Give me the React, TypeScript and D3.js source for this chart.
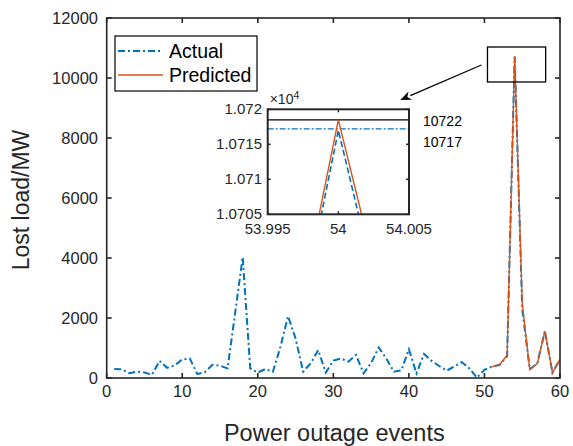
import React from "react";
import * as d3 from "d3";

// events 1..60
const events = d3.range(1, 61);
const actualLoad = [
  300, 290, 160, 215, 180, 110, 570, 340, 420, 620,
  650, 130, 200, 440, 410, 320, 2160, 4030, 320, 180,
  300, 210, 1040, 2060, 1320, 210, 490, 930, 180, 580,
  650, 545, 770, 155, 500, 1020, 655, 210, 255, 955,
  155, 800, 570, 400, 245, 380, 530, 320, 10, 270,
  380, 430, 730, 10717, 2300, 290, 490, 1570, 180, 620,
];
const predEvents = d3.range(51, 61);
const predictedLoad = [380, 440, 760, 10718.5, 2500, 280, 480, 1560, 170, 630];

const xTicks = [0, 10, 20, 30, 40, 50, 60];
const yTicks = [0, 2000, 4000, 6000, 8000, 10000, 12000];
const insetXTicks = [53.995, 54, 54.005];
const insetYTicks = [10705, 10710, 10715, 10720];
const insetYLabels = ["1.0705", "1.071", "1.0715", "1.072"];
const refLines = [10718.5, 10717.2]; // drawn levels in inset
const refLabels = ["10722", "10717"];

const BLUE = "#0072BD";
const ORANGE = "#D95319";
const AX = "#262626";
const FONT = "'Liberation Sans', Arial, Helvetica, sans-serif";

export default function App() {
  const W = 573, H = 446;
  const x = d3.scaleLinear().domain([0, 60]).range([106.7, 560]);
  const y = d3.scaleLinear().domain([0, 12000]).range([378, 18]);

  const ix = d3.scaleLinear().domain([53.995, 54.005]).range([267.7, 409]);
  const iy = d3.scaleLinear().domain([10705, 10720]).range([214.3, 109.3]);

  const actual = events.map((e, i) => [e, actualLoad[i]] as [number, number]);
  const pred = predEvents.map((e, i) => [e, predictedLoad[i]] as [number, number]);

  const line = d3.line<[number, number]>().x(d => x(d[0])).y(d => y(d[1]));
  const iline = d3.line<[number, number]>().x(d => ix(d[0])).y(d => iy(d[1]));

  // zoom box and arrow (data units)
  const box = { x0: 50.4, x1: 58.1, y0: 9867, y1: 11033 };
  const arrow = { x0: 49.6, y0: 10433, x1: 38.85, y1: 9267 };
  const ax0 = x(arrow.x0), ay0 = y(arrow.y0), ax1 = x(arrow.x1), ay1 = y(arrow.y1);
  const ang = Math.atan2(ay1 - ay0, ax1 - ax0);
  const hl = 11, hw = 4.5;
  const bx = ax1 - hl * Math.cos(ang), by = ay1 - hl * Math.sin(ang);
  const head = [
    [ax1, ay1],
    [bx + hw * Math.sin(ang), by - hw * Math.cos(ang)],
    [ax1 - 0.7 * hl * Math.cos(ang), ay1 - 0.7 * hl * Math.sin(ang)],
    [bx - hw * Math.sin(ang), by + hw * Math.cos(ang)],
  ];

  const [l, r] = x.range();
  const [b, t] = y.range();
  const [il, ir] = ix.range();
  const [ib, it] = iy.range();

  return (
    <svg width={W} height={H} style={{ position: "absolute", left: 0, top: 0, background: "#fff" }} fontFamily={FONT}>
      <defs>
        <clipPath id="mainClip"><rect x={l} y={t} width={r - l} height={b - t} /></clipPath>
        <clipPath id="insetClip"><rect x={il} y={it} width={ir - il} height={ib - it} /></clipPath>
      </defs>
      <rect width={W} height={H} fill="#fff" />

      {/* main lines */}
      <g clipPath="url(#mainClip)">
        <path d={line(actual) || ""} fill="none" stroke={BLUE} strokeWidth={2} strokeDasharray="7,3,2,3" />
        <path d={line(pred) || ""} fill="none" stroke={ORANGE} strokeWidth={1.4} />
      </g>

      {/* main axes box */}
      <rect x={l} y={t} width={r - l} height={b - t} fill="none" stroke={AX} strokeWidth={1.6} />
      {xTicks.map(v => (
        <g key={"x" + v}>
          <line x1={x(v)} x2={x(v)} y1={b} y2={b - 5} stroke={AX} strokeWidth={1.6} />
          <line x1={x(v)} x2={x(v)} y1={t} y2={t + 5} stroke={AX} strokeWidth={1.6} />
          <text x={x(v)} y={397} textAnchor="middle" fontSize={16.5} fill={AX}>{v}</text>
        </g>
      ))}
      {yTicks.map(v => (
        <g key={"y" + v}>
          <line x1={l} x2={l + 5} y1={y(v)} y2={y(v)} stroke={AX} strokeWidth={1.6} />
          <line x1={r} x2={r - 5} y1={y(v)} y2={y(v)} stroke={AX} strokeWidth={1.6} />
          <text x={98} y={y(v) + 6} textAnchor="end" fontSize={16.5} fill={AX}>{v}</text>
        </g>
      ))}
      <text x={(l + r) / 2 + 1} y={441} textAnchor="middle" fontSize={23.5} fill={AX}>Power outage events</text>
      <text transform={`translate(29,${(t + b) / 2 + 2}) rotate(-90)`} textAnchor="middle" fontSize={23} fill={AX}>Lost load/MW</text>

      {/* legend */}
      <rect x={115} y={36} width={142} height={55} fill="#fff" stroke="#000" strokeWidth={1.2} />
      <line x1={118} x2={163} y1={51} y2={51} stroke={BLUE} strokeWidth={2} strokeDasharray="7,3,2,3" />
      <text x={169} y={58} fontSize={19.5} fill="#000">Actual</text>
      <line x1={118} x2={163} y1={75} y2={75} stroke={ORANGE} strokeWidth={1.4} />
      <text x={169} y={82} fontSize={19.5} fill="#000">Predicted</text>

      {/* zoom box + arrow */}
      <rect x={x(box.x0)} y={y(box.y1)} width={x(box.x1) - x(box.x0)} height={y(box.y0) - y(box.y1)} fill="none" stroke="#000" strokeWidth={1.3} />
      <line x1={ax0} y1={ay0} x2={bx} y2={by} stroke="#000" strokeWidth={1.2} />
      <path d={"M" + head.map(p => p.join(",")).join("L") + "Z"} fill="#000" />

      {/* inset */}
      <rect x={il} y={it} width={ir - il} height={ib - it} fill="#fff" />
      <g clipPath="url(#insetClip)">
        <line x1={il} x2={ir} y1={iy(refLines[0])} y2={iy(refLines[0])} stroke="#000" strokeWidth={1.3} />
        <line x1={il} x2={ir} y1={iy(refLines[1])} y2={iy(refLines[1])} stroke={BLUE} strokeWidth={1.4} strokeDasharray="6,2,2,2" />
        <path d={iline(actual.slice(52, 55)) || ""} fill="none" stroke={BLUE} strokeWidth={1.6} strokeDasharray="6,3" />
        <path d={iline(pred.slice(2, 5)) || ""} fill="none" stroke={ORANGE} strokeWidth={1.4} />
      </g>
      <rect x={il} y={it} width={ir - il} height={ib - it} fill="none" stroke={AX} strokeWidth={2} />
      {insetXTicks.map(v => (
        <g key={"ix" + v}>
          <line x1={ix(v)} x2={ix(v)} y1={ib} y2={ib - 3} stroke={AX} strokeWidth={1.5} />
          <line x1={ix(v)} x2={ix(v)} y1={it} y2={it + 3} stroke={AX} strokeWidth={1.5} />
          <text x={ix(v)} y={234} textAnchor="middle" fontSize={15} fill={AX}>{v}</text>
        </g>
      ))}
      {insetYTicks.map((v, i) => (
        <g key={"iy" + v}>
          <line x1={il} x2={il + 3} y1={iy(v)} y2={iy(v)} stroke={AX} strokeWidth={1.5} />
          <line x1={ir} x2={ir - 3} y1={iy(v)} y2={iy(v)} stroke={AX} strokeWidth={1.5} />
          <text x={262} y={iy(v) + 5} textAnchor="end" fontSize={15} fill={AX}>{insetYLabels[i]}</text>
        </g>
      ))}
      <text x={il + 2} y={104} fontSize={14} fill={AX}>
        ×10<tspan dy={-5} fontSize={10.5}>4</tspan>
      </text>
      {refLabels.map((s, i) => (
        <text key={s} x={423} y={126 + i * 21} fontSize={14} fill="#000">{s}</text>
      ))}
    </svg>
  );
}
